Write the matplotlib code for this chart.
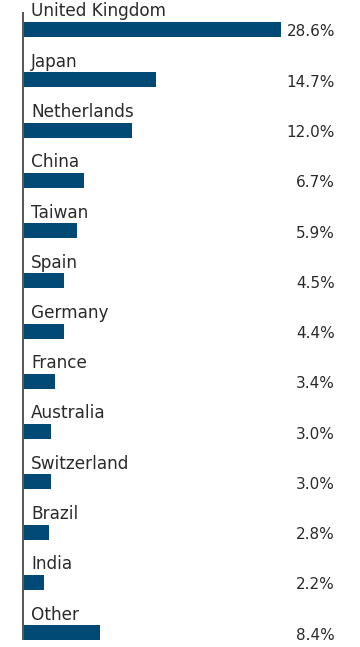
import matplotlib
matplotlib.use("Agg")
import matplotlib.pyplot as plt
import numpy as np

countries = ["United Kingdom", "Japan", "Netherlands", "China", "Taiwan", "Spain",
             "Germany", "France", "Australia", "Switzerland", "Brazil", "India", "Other"]
weights = [28.6, 14.7, 12.0, 6.7, 5.9, 4.5, 4.4, 3.4, 3.0, 3.0, 2.8, 2.2, 8.4]
value_labels = [f"{w:.1f}%" for w in weights]

bar_color = "#004a75"
text_color = "#2a2a2a"
px_per_unit = 8.99   # horizontal pixels per percentage point
row_px = 50.25       # vertical pixels per row

W, H = 360, 647
fig = plt.figure(figsize=(W / 100, H / 100), dpi=100)
left_px = 24
ax = fig.add_axes([left_px / W, 0, 1 - left_px / W, 1])

y = np.arange(len(countries))
ax.barh(y, weights, height=15 / row_px, color=bar_color, left=0)

ax.set_xlim(0, (W - left_px) / px_per_unit)
ax.set_ylim((H - 29.5) / row_px, -29.5 / row_px)
ax.axis("off")

# vertical axis line
ax.vlines(-1 / px_per_unit, -17.5 / row_px, (640 - 29.5) / row_px,
          color="#555555", lw=1.4, clip_on=False)

for i, (name, lab) in enumerate(zip(countries, value_labels)):
    ax.text(7 / px_per_unit, i - 13 / row_px, name, ha="left", va="baseline",
            family="DejaVu Sans", fontsize=12.2, color=text_color)
    ax.text((335 - left_px) / px_per_unit, i + 7 / row_px, lab, ha="right", va="baseline",
            family="DejaVu Sans", fontsize=11, color=text_color)

fig.savefig("out.png", dpi=100)
